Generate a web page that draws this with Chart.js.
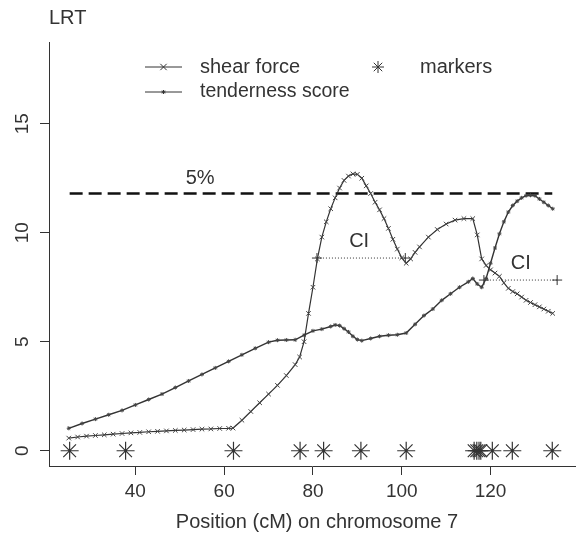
<!DOCTYPE html>
<html>
<head>
<meta charset="utf-8">
<script src="https://cdn.jsdelivr.net/npm/chart.js@4.4.0/dist/chart.umd.min.js"></script>
<style>
  html, body { margin: 0; padding: 0; background: #fff; }
  canvas { display: block; }
</style>
</head>
<body>
<canvas id="lrtChart" width="586" height="535"></canvas>
<script>
// positions in cM
const shearX = [25, 27, 29, 31, 33, 35, 37, 39, 41, 43, 45, 47, 49, 51, 53, 55, 57, 59, 61, 62,
  64, 66, 68, 70, 72, 74, 76, 77, 78, 79, 80, 81, 82, 83, 84, 85, 86, 87, 88, 89, 90, 91, 92,
  93, 94, 95, 96, 97, 98, 99, 100, 101, 102, 103, 104, 106, 108, 110, 112, 114, 116, 117, 118,
  119, 120, 121, 122, 123, 124, 125, 126, 127, 128, 129, 130, 131, 132, 133, 134];
const shearY = [0.58, 0.63, 0.67, 0.70, 0.73, 0.76, 0.79, 0.82, 0.84, 0.87, 0.89, 0.91, 0.93, 0.95,
  0.97, 0.99, 1.0, 1.02, 1.03, 1.04, 1.4, 1.8, 2.2, 2.6, 3.0, 3.45, 3.95, 4.3, 5.0, 6.3, 7.5, 8.8,
  9.8, 10.5, 11.1, 11.6, 12.05, 12.4, 12.6, 12.7, 12.68, 12.5, 12.15, 11.8, 11.4, 11.05, 10.65,
  10.2, 9.7, 9.25, 8.85, 8.6, 8.8, 9.1, 9.35, 9.8, 10.15, 10.4, 10.58, 10.65, 10.65, 9.9, 8.8,
  8.5, 8.3, 8.15, 8.0, 7.7, 7.45, 7.3, 7.2, 7.05, 6.9, 6.8, 6.7, 6.6, 6.5, 6.4, 6.3];

const tenderX = [25, 28, 31, 34, 37, 40, 43, 46, 49, 52, 55, 58, 61, 64, 67, 70, 72, 74, 76, 78,
  80, 82, 84, 85, 86, 87, 88, 89, 90, 91, 93, 95, 97, 99, 101, 103, 105, 107, 109, 111, 113, 115,
  116, 117, 118, 119, 120, 121, 122, 123, 124, 125, 126, 127, 128, 129, 130, 131, 132, 133, 134];
const tenderY = [1.03, 1.25, 1.45, 1.65, 1.85, 2.1, 2.35, 2.6, 2.9, 3.2, 3.5, 3.8, 4.1, 4.4, 4.7,
  4.98, 5.07, 5.08, 5.09, 5.3, 5.5, 5.58, 5.7, 5.77, 5.74, 5.6, 5.45, 5.25, 5.1, 5.05, 5.15, 5.25,
  5.3, 5.32, 5.4, 5.8, 6.2, 6.5, 6.9, 7.2, 7.5, 7.75, 7.9, 7.65, 7.5, 7.9, 8.6, 9.3, 9.95, 10.5,
  10.95, 11.25, 11.45, 11.6, 11.7, 11.72, 11.7, 11.55, 11.4, 11.25, 11.1];

const markerX = [25.2, 37.8, 62.1, 77.1, 82.4, 90.8, 101.0, 116.3, 116.9, 117.4, 117.8, 120.4, 124.9, 133.9];

const thresholdX = [25.2, 133.9];
const thresholdY = 11.8;

const ci1X = [80.9, 100.8];
const ci1Y = 8.84;
const ci2X = [118.5, 135.0];
const ci2Y = 7.83;

const xTicks = [40, 60, 80, 100, 120];
const yTicks = [0, 5, 10, 15];

// free text annotations: [label, x, y]
const notes = [['5%', 54.6, 12.5], ['CI', 90.4, 9.6], ['CI', 126.8, 8.6]];

const ink = '#333';
const font = '"Liberation Sans", Arial, sans-serif';

const pts = (xs, ys) => xs.map((x, i) => ({x, y: Array.isArray(ys) ? ys[i] : ys}));

const notesPlugin = {
  id: 'notes',
  afterDatasetsDraw(chart) {
    const {ctx, scales: {x, y}} = chart;
    ctx.save();
    ctx.fillStyle = ink;
    ctx.font = '20px ' + font;
    ctx.textAlign = 'center';
    ctx.textBaseline = 'middle';
    notes.forEach(([t, vx, vy]) => ctx.fillText(t, x.getPixelForValue(vx), y.getPixelForValue(vy)));

    // y tick labels, written along the axis
    ctx.font = '19px ' + font;
    yTicks.forEach(v => {
      ctx.save();
      ctx.translate(23, y.getPixelForValue(v));
      ctx.rotate(-Math.PI / 2);
      ctx.fillText(String(v), 0, 0);
      ctx.restore();
    });

    // axis labels
    ctx.font = '20px ' + font;
    ctx.textAlign = 'left';
    ctx.fillText('LRT', 49, 18);
    ctx.textAlign = 'center';
    ctx.fillText('Position (cM) on chromosome 7', 317, 522);

    // legend
    const sets = chart.data.datasets;
    const drawItem = (ds, x0, yy, withLine, r) => {
      if (withLine) {
        ctx.strokeStyle = ink;
        ctx.lineWidth = 1;
        ctx.beginPath();
        ctx.moveTo(x0, yy);
        ctx.lineTo(x0 + 37, yy);
        ctx.stroke();
      }
      ctx.strokeStyle = ink;
      ctx.fillStyle = ink;
      Chart.helpers.drawPoint(ctx, {
        pointStyle: ds.pointStyle, radius: r, rotation: 0, borderWidth: 1
      }, x0 + 18.5, yy);
    };
    drawItem(sets[0], 145, 67, true, 4.5);
    drawItem(sets[1], 145, 92, true, 2);
    drawItem(sets[2], 359.5, 67, false, 6);
    ctx.fillStyle = ink;
    ctx.textAlign = 'left';
    ctx.fillText('shear force', 200, 67);
    ctx.font = '19.5px ' + font;
    ctx.fillText('tenderness score', 200, 92);
    ctx.font = '20px ' + font;
    ctx.fillText('markers', 420, 67);
    ctx.restore();
  }
};

new Chart(document.getElementById('lrtChart'), {
  type: 'scatter',
  data: {
    datasets: [
      {
        label: 'shear force',
        data: pts(shearX, shearY),
        showLine: true,
        borderColor: ink, backgroundColor: ink, borderWidth: 1.2,
        pointStyle: 'crossRot', pointRadius: 3.2, pointBorderWidth: 1,
        pointBorderColor: '#444', tension: 0
      },
      {
        label: 'tenderness score',
        data: pts(tenderX, tenderY),
        showLine: true,
        borderColor: ink, backgroundColor: ink, borderWidth: 1.4,
        pointStyle: 'star', pointRadius: 2, pointBorderWidth: 1,
        pointBorderColor: '#444', tension: 0
      },
      {
        label: 'markers',
        data: pts(markerX, 0),
        showLine: false,
        borderColor: ink, backgroundColor: ink,
        pointStyle: 'star', pointRadius: 9, pointBorderWidth: 1.2
      },
      {
        label: 'threshold',
        data: pts(thresholdX, thresholdY),
        showLine: true, borderColor: '#111', borderWidth: 2.6,
        borderDash: [13, 6], pointRadius: 0
      },
      {
        label: 'CI 1',
        data: pts(ci1X, ci1Y),
        showLine: true, borderColor: ink, borderWidth: 1, borderDash: [1, 2],
        pointStyle: 'cross', pointRadius: 5, pointBorderColor: ink, pointBorderWidth: 1
      },
      {
        label: 'CI 2',
        data: pts(ci2X, ci2Y),
        showLine: true, borderColor: ink, borderWidth: 1, borderDash: [1, 2],
        pointStyle: 'cross', pointRadius: 5, pointBorderColor: ink, pointBorderWidth: 1
      }
    ]
  },
  options: {
    responsive: false,
    animation: false,
    layout: {padding: {top: 42, right: 0, left: 0, bottom: 0}},
    plugins: {legend: {display: false}, tooltip: {enabled: false}},
    scales: {
      x: {
        type: 'linear', min: 20.55, max: 139.2,
        afterBuildTicks: s => { s.ticks = xTicks.map(v => ({value: v})); },
        afterFit: s => { s.height = 69; },
        grid: {drawOnChartArea: false, drawTicks: true, tickLength: 9, color: ink},
        border: {display: true, color: ink, width: 1},
        ticks: {color: ink, font: {family: font, size: 19}, padding: 5, maxRotation: 0}
      },
      y: {
        type: 'linear', min: -0.7, max: 18.75,
        afterBuildTicks: s => { s.ticks = yTicks.map(v => ({value: v})); },
        afterFit: s => { s.width = 49; },
        grid: {drawOnChartArea: false, drawTicks: true, tickLength: 9, color: ink},
        border: {display: true, color: ink, width: 1},
        ticks: {display: false}
      }
    }
  },
  plugins: [notesPlugin]
});
</script>
</body>
</html>
